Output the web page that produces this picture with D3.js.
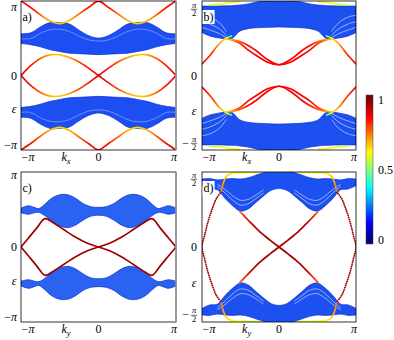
<!DOCTYPE html>
<html>
<head>
<meta charset="utf-8">
<script src="https://cdn.jsdelivr.net/npm/d3@7"></script>
<style>
  body { margin: 0; background: #fff; }
  svg { display: block; font-family: "Liberation Serif", "DejaVu Serif", serif; }
  svg text { fill: #000; }
</style>
</head>
<body>
<div id="chart"></div>
<script>
var PI = Math.PI;

// ---------- panel a (k_x, y in [-pi, pi]) ----------
var aK = [-1,-0.875,-0.75,-0.625,-0.5,-0.375,-0.25,-0.125,0,0.125,0.25,0.375,0.5,0.625,0.75,0.875,1];
var aEdgeTop = [3.14,2.87,2.56,2.3,2.19,2.32,2.6,2.88,3.14,2.88,2.6,2.32,2.19,2.3,2.56,2.87,3.14];
var aEdgeBot = [-3.14,-2.87,-2.56,-2.3,-2.19,-2.32,-2.6,-2.88,-3.14,-2.88,-2.6,-2.32,-2.19,-2.3,-2.56,-2.87,-3.14];
var aEdgeOuterC = [0.9,0.86,0.78,0.7,0.66,0.7,0.78,0.86,0.9,0.86,0.78,0.7,0.66,0.7,0.78,0.86,0.9];
var aEdgeMid1 = [0,-0.42,-0.72,-0.87,-0.87,-0.76,-0.57,-0.3,0,0.3,0.57,0.76,0.87,0.87,0.72,0.42,0];
var aEdgeMid2 = [0,0.42,0.72,0.87,0.87,0.76,0.57,0.3,0,-0.3,-0.57,-0.76,-0.87,-0.87,-0.72,-0.42,0];
var aEdgeMidC = [0.9,0.86,0.78,0.7,0.67,0.72,0.8,0.86,0.9,0.86,0.8,0.72,0.67,0.7,0.78,0.86,0.9];
var aBandUpHi = [1.76,1.8,2.05,2.23,2.23,2.17,1.91,1.68,1.58,1.68,1.91,2.17,2.23,2.23,2.05,1.8,1.76];
var aBandUpLo = [1.35,1.3,1.21,1.09,1.01,0.94,0.92,0.9,0.88,0.9,0.92,0.94,1.01,1.09,1.21,1.3,1.35];
var aBandDnHi = [-1.35,-1.3,-1.21,-1.09,-1.01,-0.94,-0.92,-0.9,-0.88,-0.9,-0.92,-0.94,-1.01,-1.09,-1.21,-1.3,-1.35];
var aBandDnLo = [-1.76,-1.8,-2.05,-2.23,-2.23,-2.17,-1.91,-1.68,-1.58,-1.68,-1.91,-2.17,-2.23,-2.23,-2.05,-1.8,-1.76];
var aBandUpLine = [1.55,1.56,1.78,1.93,1.95,1.86,1.66,1.5,1.45,1.5,1.66,1.86,1.95,1.93,1.78,1.56,1.55];
var aBandDnLine = [-1.55,-1.56,-1.78,-1.93,-1.95,-1.86,-1.66,-1.5,-1.45,-1.5,-1.66,-1.86,-1.95,-1.93,-1.78,-1.56,-1.55];

// ---------- panel b (k_x, y in units, ticks at +-pi/2) ----------
var bK = [-1,-0.9,-0.77,-0.683,-0.617,-0.51,-0.4,-0.29,-0.15,0,0.15,0.29,0.4,0.51,0.617,0.683,0.77,0.9,1];
var bBandUpHi = [1.615,1.615,1.615,1.62,1.625,1.638,1.665,1.71,1.74,1.76,1.74,1.71,1.665,1.638,1.625,1.62,1.615,1.615,1.615];
var bBandUpLo = [1.0,0.92,0.87,0.85,0.85,1.03,1.09,1.11,1.12,1.13,1.12,1.11,1.09,1.03,0.85,0.85,0.87,0.92,1.0];
var bBandDnHi = [-1.0,-0.92,-0.87,-0.85,-0.85,-1.03,-1.09,-1.11,-1.12,-1.13,-1.12,-1.11,-1.09,-1.03,-0.85,-0.85,-0.87,-0.92,-1.0];
var bBandDnLo = [-1.615,-1.615,-1.615,-1.62,-1.625,-1.638,-1.665,-1.71,-1.74,-1.76,-1.74,-1.71,-1.665,-1.638,-1.625,-1.62,-1.615,-1.615,-1.615];
var bFanUp1 = [1.4,1.36,1.22,1.02,null,null,null,null,null,null,null,null,null,null,null,1.02,1.22,1.36,1.4];
var bFanUp2 = [1.25,1.2,1.08,0.93,null,null,null,null,null,null,null,null,null,null,null,0.93,1.08,1.2,1.25];
var bFanUp3 = [1.12,1.06,0.97,0.88,null,null,null,null,null,null,null,null,null,null,null,0.88,0.97,1.06,1.12];
var bFanDn1 = [-1.4,-1.36,-1.22,-1.02,null,null,null,null,null,null,null,null,null,null,null,-1.02,-1.22,-1.36,-1.4];
var bFanDn2 = [-1.25,-1.2,-1.08,-0.93,null,null,null,null,null,null,null,null,null,null,null,-0.93,-1.08,-1.2,-1.25];
var bFanDn3 = [-1.12,-1.06,-0.97,-0.88,null,null,null,null,null,null,null,null,null,null,null,-0.88,-0.97,-1.06,-1.12];
var bOuterUp = [0.27,0.46,0.75,0.87,0.92,null,null,null,null,null,null,null,null,null,0.92,0.87,0.75,0.46,0.27];
var bOuterDn = [-0.27,-0.46,-0.75,-0.87,-0.92,null,null,null,null,null,null,null,null,null,-0.92,-0.87,-0.75,-0.46,-0.27];
var bOuterC = [0.9,0.84,0.72,0.6,0.45,null,null,null,null,null,null,null,null,null,0.45,0.6,0.72,0.84,0.9];
var bInnerUp1 = [null,null,null,0.85,0.83,0.75,0.59,0.46,0.31,0.25,0.31,0.46,0.59,0.75,0.83,0.85,null,null,null];
var bInnerUp2 = [null,null,null,null,0.84,0.79,0.7,0.57,0.37,0.25,0.37,0.57,0.7,0.79,0.84,null,null,null,null];
var bInnerDn1 = [null,null,null,-0.85,-0.83,-0.75,-0.59,-0.46,-0.31,-0.25,-0.31,-0.46,-0.59,-0.75,-0.83,-0.85,null,null,null];
var bInnerDn2 = [null,null,null,null,-0.84,-0.79,-0.7,-0.57,-0.37,-0.25,-0.37,-0.57,-0.7,-0.79,-0.84,null,null,null,null];
var bInnerC1 = [null,null,null,0.66,0.74,0.82,0.87,0.88,0.88,0.88,0.88,0.88,0.87,0.82,0.74,0.66,null,null,null];
var bInnerC2 = [null,null,null,null,0.7,0.8,0.86,0.88,0.88,0.88,0.88,0.88,0.86,0.8,0.7,null,null,null,null];
var bRimUp = [null,1.638,1.66,1.684,1.7,1.715,null,null,null,null,null,null,null,1.715,1.7,1.684,1.66,1.638,null];
var bRimDn = [null,-1.638,-1.66,-1.684,-1.7,-1.715,null,null,null,null,null,null,null,-1.715,-1.7,-1.684,-1.66,-1.638,null];
var bRimC = [null,0.55,0.6,0.62,0.62,0.6,null,null,null,null,null,null,null,0.6,0.62,0.62,0.6,0.55,null];

// ---------- panel c (k_y, y in [-pi, pi]) ----------
var cK = [-1,-0.9,-0.8,-0.69,-0.6,-0.45,-0.3,-0.15,0,0.15,0.3,0.45,0.6,0.69,0.8,0.9,1];
var cEdge1 = [0,0.39,0.78,1.19,1.05,0.73,0.42,0.17,0,-0.17,-0.42,-0.73,-1.05,-1.19,-0.78,-0.39,0];
var cEdge2 = [0,-0.39,-0.78,-1.19,-1.05,-0.73,-0.42,-0.17,0,0.17,0.42,0.73,1.05,1.19,0.78,0.39,0];
var cBK = [-1,-0.9,-0.83,-0.77,-0.7,-0.6,-0.5,-0.4,-0.3,-0.2,-0.1,0,0.1,0.2,0.3,0.4,0.5,0.6,0.7,0.77,0.83,0.9,1];
var cBandUpHi = [1.63,1.73,1.66,1.61,1.77,2.05,2.19,2.19,2.05,1.82,1.69,1.66,1.69,1.82,2.05,2.19,2.19,2.05,1.77,1.61,1.66,1.73,1.63];
var cBandUpLo = [1.43,1.37,1.43,1.45,1.33,1.08,0.88,0.81,0.91,1.12,1.29,1.33,1.29,1.12,0.91,0.81,0.88,1.08,1.33,1.45,1.43,1.37,1.43];
var cBandDnHi = [-1.43,-1.37,-1.43,-1.45,-1.33,-1.08,-0.88,-0.81,-0.91,-1.12,-1.29,-1.33,-1.29,-1.12,-0.91,-0.81,-0.88,-1.08,-1.33,-1.45,-1.43,-1.37,-1.43];
var cBandDnLo = [-1.63,-1.73,-1.66,-1.61,-1.77,-2.05,-2.19,-2.19,-2.05,-1.82,-1.69,-1.66,-1.69,-1.82,-2.05,-2.19,-2.19,-2.05,-1.77,-1.61,-1.66,-1.73,-1.63];

// ---------- panel d (k_y, y in units, ticks at +-pi/2) ----------
var dBK = [-1,-0.9,-0.8,-0.7,-0.6,-0.5,-0.4,-0.3,-0.2,-0.1,0,0.1,0.2,0.3,0.4,0.5,0.6,0.7,0.8,0.9,1];
var dBandUpHi = [1.57,1.58,1.55,1.57,1.58,1.57,1.6,1.66,1.72,1.75,1.77,1.75,1.72,1.66,1.6,1.57,1.58,1.57,1.55,1.58,1.57];
var dBandUpLo = [1.42,1.34,1.32,1.12,0.95,0.83,0.88,1.03,1.18,1.31,1.35,1.31,1.18,1.03,0.88,0.83,0.95,1.12,1.32,1.34,1.42];
var dBandDnHi = [-1.42,-1.34,-1.32,-1.12,-0.95,-0.83,-0.88,-1.03,-1.18,-1.31,-1.35,-1.31,-1.18,-1.03,-0.88,-0.83,-0.95,-1.12,-1.32,-1.34,-1.42];
var dBandDnLo = [-1.57,-1.58,-1.55,-1.57,-1.58,-1.57,-1.6,-1.66,-1.72,-1.75,-1.77,-1.75,-1.72,-1.66,-1.6,-1.57,-1.58,-1.57,-1.55,-1.58,-1.57];
var dLineUp1 = [null,null,1.4,1.25,1.08,0.97,1.0,1.12,1.25,null,null,null,1.25,1.12,1.0,0.97,1.08,1.25,1.4,null,null];
var dLineUp2 = [null,null,1.45,1.33,1.18,1.08,1.1,1.2,1.32,null,null,null,1.32,1.2,1.1,1.08,1.18,1.33,1.45,null,null];
var dLineDn1 = [null,null,-1.4,-1.25,-1.08,-0.97,-1.0,-1.12,-1.25,null,null,null,-1.25,-1.12,-1.0,-0.97,-1.08,-1.25,-1.4,null,null];
var dLineDn2 = [null,null,-1.45,-1.33,-1.18,-1.08,-1.1,-1.2,-1.32,null,null,null,-1.32,-1.2,-1.1,-1.08,-1.18,-1.33,-1.45,null,null];
var dCrossK = [-0.51,-0.465,-0.378,-0.248,-0.117,0,0.117,0.248,0.378,0.465,0.51];
var dCross1 = [0.815,0.74,0.58,0.35,0.16,0,-0.16,-0.35,-0.58,-0.74,-0.815];
var dCross2 = [-0.815,-0.74,-0.58,-0.35,-0.16,0,0.16,0.35,0.58,0.74,0.815];
var dCrossC = [0.74,0.84,0.93,0.96,0.97,0.97,0.97,0.96,0.93,0.84,0.74];
var dOuterLK = [-0.748,-0.813,-0.865,-0.922,-0.965,-1,-0.965,-0.922,-0.865,-0.813,-0.748];
var dOuterRK = [0.748,0.813,0.865,0.922,0.965,1,0.965,0.922,0.865,0.813,0.748];
var dOuterV = [1.276,1.12,0.892,0.584,0.277,0,-0.277,-0.584,-0.892,-1.12,-1.276];
var dRimLK = [-0.748,-0.726,-0.683,-0.617,-0.465,-0.248];
var dRimRK = [0.248,0.465,0.617,0.683,0.726,0.748];
var dRimUpL = [1.29,1.47,1.63,1.7,1.72,1.72];
var dRimUpR = [1.72,1.72,1.7,1.63,1.47,1.29];
var dRimDnL = [-1.29,-1.47,-1.63,-1.7,-1.72,-1.72];
var dRimDnR = [-1.72,-1.72,-1.7,-1.63,-1.47,-1.29];
var dRimCL = [0.76,0.72,0.67,0.63,0.62,0.58];
var dRimCR = [0.58,0.62,0.63,0.67,0.72,0.76];

// colour bar
var cbTicks = [0, 0.5, 1];
var jetStops = [0, 0.125, 0.375, 0.625, 0.875, 1];
var jetColors = ["#000080", "#0000ff", "#00ffff", "#ffff00", "#ff0000", "#800000"];

var jet = d3.scaleLinear().domain(jetStops).range(jetColors).clamp(true);

var svg = d3.select("#chart").append("svg").attr("width", 394).attr("height", 340);
var defs = svg.append("defs");
var gradN = 0;

var halfU = 1.733; // y half-range of panels b and d

var panels = [
  { id: "a", left: 21, right: 176, top: 1, bottom: 150, yMax: PI, frac: false, kSub: "x", letter: "a)", box: false, greyRight: true, eps: 113,
    fill: "#1c4ef2",
    bands: [[aK, aBandUpHi, aBandUpLo], [aK, aBandDnHi, aBandDnLo]],
    soft: [[aK, aBandUpLine], [aK, aBandDnLine]],
    edges: [[aK, aEdgeTop, aEdgeOuterC], [aK, aEdgeBot, aEdgeOuterC], [aK, aEdgeMid1, aEdgeMidC], [aK, aEdgeMid2, aEdgeMidC]] },
  { id: "b", left: 202, right: 356, top: 1, bottom: 150, yMax: halfU, frac: true, kSub: "x", letter: "b)", box: true, greyRight: false, eps: 115,
    fill: "#1d50f0",
    bands: [[bK, bBandUpHi, bBandUpLo], [bK, bBandDnHi, bBandDnLo]],
    soft: [[bK, bFanUp1], [bK, bFanUp2], [bK, bFanUp3], [bK, bFanDn1], [bK, bFanDn2], [bK, bFanDn3]],
    edges: [[bK, bOuterUp, bOuterC], [bK, bOuterDn, bOuterC], [bK, bInnerUp1, bInnerC1], [bK, bInnerUp2, bInnerC2],
            [bK, bInnerDn1, bInnerC1], [bK, bInnerDn2, bInnerC2], [bK, bRimUp, bRimC], [bK, bRimDn, bRimC]] },
  { id: "c", left: 21, right: 176, top: 172, bottom: 322, yMax: PI, frac: false, kSub: "y", letter: "c)", box: false, greyRight: true, eps: 285,
    fill: "#2a62f2",
    bands: [[cBK, cBandUpHi, cBandUpLo], [cBK, cBandDnHi, cBandDnLo]],
    soft: [],
    edges: [[cK, cEdge1, 0.97], [cK, cEdge2, 0.97]] },
  { id: "d", left: 202, right: 356, top: 172, bottom: 322, yMax: halfU, frac: true, kSub: "y", letter: "d)", box: true, greyRight: false, eps: 287,
    fill: "#1d50f0",
    bands: [[dBK, dBandUpHi, dBandUpLo], [dBK, dBandDnHi, dBandDnLo]],
    soft: [[dBK, dLineUp1], [dBK, dLineUp2], [dBK, dLineDn1], [dBK, dLineDn2]],
    edges: [[dCrossK, dCross1, dCrossC], [dCrossK, dCross2, dCrossC],
            [dRimLK, dRimUpL, dRimCL], [dRimRK, dRimUpR, dRimCR], [dRimLK, dRimDnL, dRimCL], [dRimRK, dRimDnR, dRimCR]],
    dotted: [[dOuterLK, dOuterV, 0.97], [dOuterRK, dOuterV, 0.97]] }
];

function drawEdge(g, x, y, ks, vs, cs, width, dash) {
  var pts = ks.map(function(k, i) { return { k: k, v: vs[i], c: Array.isArray(cs) ? cs[i] : cs }; });
  var line = d3.line()
    .defined(function(d) { return d.v != null; })
    .x(function(d) { return x(d.k); })
    .y(function(d) { return y(d.v); })
    .curve(d3.curveCatmullRom.alpha(0.5));
  var stroke;
  if (Array.isArray(cs)) {
    var def = pts.filter(function(d) { return d.v != null; }).sort(function(a, b) { return a.k - b.k; });
    var x1 = x(def[0].k), x2 = x(def[def.length - 1].k);
    var id = "grad" + (gradN++);
    var gr = defs.append("linearGradient").attr("id", id)
      .attr("gradientUnits", "userSpaceOnUse")
      .attr("x1", x1).attr("x2", x2).attr("y1", 0).attr("y2", 0);
    def.forEach(function(d) {
      gr.append("stop").attr("offset", (x(d.k) - x1) / (x2 - x1)).attr("stop-color", jet(d.c));
    });
    stroke = "url(#" + id + ")";
  } else {
    stroke = jet(cs);
  }
  var p = g.append("path").datum(pts)
    .attr("d", line)
    .attr("fill", "none")
    .attr("stroke", stroke)
    .attr("stroke-width", width)
    .attr("stroke-linecap", "round");
  if (dash) p.attr("stroke-dasharray", dash);
}

function fracLabel(sel, cx, cy, neg) {
  var g = sel.append("g").attr("transform", "translate(" + cx + "," + cy + ")");
  if (neg) g.append("text").attr("x", -5).attr("y", 3.5).attr("text-anchor", "end").attr("font-size", 12).text("−");
  g.append("text").attr("x", 0).attr("y", -1.5).attr("text-anchor", "middle").attr("font-size", 8.5).attr("font-style", "italic").text("π");
  g.append("line").attr("x1", -3.2).attr("x2", 3.2).attr("y1", 0.3).attr("y2", 0.3).attr("stroke", "#000").attr("stroke-width", 0.6);
  g.append("text").attr("x", 0).attr("y", 7).attr("text-anchor", "middle").attr("font-size", 8.5).text("2");
}

panels.forEach(function(p) {
  var x = d3.scaleLinear().domain([-1, 1]).range([p.left, p.right]);
  var y = d3.scaleLinear().domain([-p.yMax, p.yMax]).range([p.bottom, p.top]);

  defs.append("clipPath").attr("id", "clip-" + p.id)
    .append("rect").attr("x", p.left).attr("y", p.top)
    .attr("width", p.right - p.left).attr("height", p.bottom - p.top);

  var g = svg.append("g").attr("clip-path", "url(#clip-" + p.id + ")");

  // bulk bands
  p.bands.forEach(function(b) {
    var pts = b[0].map(function(k, i) { return { k: k, hi: b[1][i], lo: b[2][i] }; });
    var area = d3.area()
      .x(function(d) { return x(d.k); })
      .y0(function(d) { return y(d.lo); })
      .y1(function(d) { return y(d.hi); })
      .curve(d3.curveCatmullRom.alpha(0.5));
    g.append("path").datum(pts).attr("d", area)
      .attr("fill", p.fill).attr("stroke", "#0a2bd4").attr("stroke-width", 0.7);
  });

  // lighter inner band lines
  p.soft.forEach(function(s) {
    var pts = s[0].map(function(k, i) { return { k: k, v: s[1][i] }; });
    g.append("path").datum(pts)
      .attr("d", d3.line().defined(function(d) { return d.v != null; })
        .x(function(d) { return x(d.k); }).y(function(d) { return y(d.v); })
        .curve(d3.curveCatmullRom.alpha(0.5)))
      .attr("fill", "none").attr("stroke", p.frac ? "#cfe2ff" : "#8eb0ff")
      .attr("stroke-width", 0.8).attr("opacity", 0.85);
  });

  // edge states
  (p.dotted || []).forEach(function(e) { drawEdge(g, x, y, e[0], e[1], e[2], 1.8, "0.1 2.1"); });
  p.edges.forEach(function(e) { drawEdge(g, x, y, e[0], e[1], e[2], 1.7); });

  // frame
  svg.append("rect").attr("x", p.left).attr("y", p.top)
    .attr("width", p.right - p.left).attr("height", p.bottom - p.top)
    .attr("fill", "none").attr("stroke", "#000").attr("stroke-width", 0.8);
  if (p.greyRight) {
    svg.append("line").attr("x1", p.right).attr("x2", p.right).attr("y1", p.top).attr("y2", p.bottom)
      .attr("stroke", "#9a9a9a").attr("stroke-width", 1.6);
  }

  // panel letter
  if (p.box) {
    svg.append("rect").attr("x", p.left + 0.6).attr("y", p.top + 9).attr("width", 12).attr("height", 14).attr("fill", "#fff");
  }
  svg.append("text").attr("x", p.left + 1.5).attr("y", p.top + 19.5)
    .attr("font-size", 12).attr("fill", "#000").text(p.letter);

  // x tick labels
  var xl = svg.append("g").attr("font-size", 12).attr("fill", "#000");
  var xb = p.bottom + 11;
  xl.append("text").attr("x", x(-1) + 7).attr("y", xb).attr("text-anchor", "middle")
    .html('−<tspan font-style="italic">π</tspan>');
  xl.append("text").attr("x", x(0)).attr("y", xb).attr("text-anchor", "middle").text("0");
  xl.append("text").attr("x", x(1) - 2).attr("y", xb).attr("text-anchor", "middle").attr("font-style", "italic").text("π");
  var kl = xl.append("text").attr("x", x(-0.42)).attr("y", xb).attr("text-anchor", "middle");
  kl.append("tspan").attr("font-style", "italic").text("k");
  kl.append("tspan").attr("font-style", "italic").attr("font-size", 8.5).attr("dy", 2.5).text(p.kSub);

  // y tick labels
  var yl = svg.append("g").attr("font-size", 12).attr("fill", "#000");
  if (!p.frac) {
    yl.append("text").attr("x", p.left - 4).attr("y", Math.max(y(PI) + 7, 11)).attr("text-anchor", "end").attr("font-style", "italic").text("π");
    yl.append("text").attr("x", p.left - 4).attr("y", y(0) + 4).attr("text-anchor", "end").text("0");
    yl.append("text").attr("x", p.left - 4).attr("y", y(-PI) - 1).attr("text-anchor", "end")
      .html('−<tspan font-style="italic">π</tspan>');
    yl.append("text").attr("x", p.left - 7).attr("y", p.eps).attr("text-anchor", "middle").attr("font-style", "italic").text("ε");
  } else {
    fracLabel(yl, p.left - 8, Math.max(y(PI / 2), 9), false);
    fracLabel(yl, p.left - 8, y(-PI / 2), true);
    yl.append("text").attr("x", p.left - 5).attr("y", y(0) + 4).attr("text-anchor", "end").text("0");
    yl.append("text").attr("x", p.left - 8).attr("y", p.eps).attr("text-anchor", "middle").attr("font-style", "italic").text("ε");
  }
});

// colour bar
var cb = d3.scaleLinear().domain([0, 1]).range([240, 100]);
var cbTop = 95, cbBot = 244, cbX = 366, cbW = 7;
var cg = defs.append("linearGradient").attr("id", "cbgrad")
  .attr("gradientUnits", "userSpaceOnUse").attr("x1", 0).attr("x2", 0).attr("y1", cbTop).attr("y2", cbBot);
jetStops.slice().reverse().forEach(function(t) {
  cg.append("stop").attr("offset", (cb(t) - cbTop) / (cbBot - cbTop)).attr("stop-color", jet(t));
});
svg.append("rect").attr("x", cbX).attr("y", cbTop).attr("width", cbW).attr("height", cbBot - cbTop)
  .attr("fill", "url(#cbgrad)").attr("stroke", "#444").attr("stroke-width", 0.5);
svg.append("g").attr("font-size", 12).attr("fill", "#000").selectAll("text").data(cbTicks).enter().append("text")
  .attr("x", cbX + cbW + 5)
  .attr("y", function(d) { return cb(d) + 4; })
  .text(function(d) { return d; });
</script>
</body>
</html>
